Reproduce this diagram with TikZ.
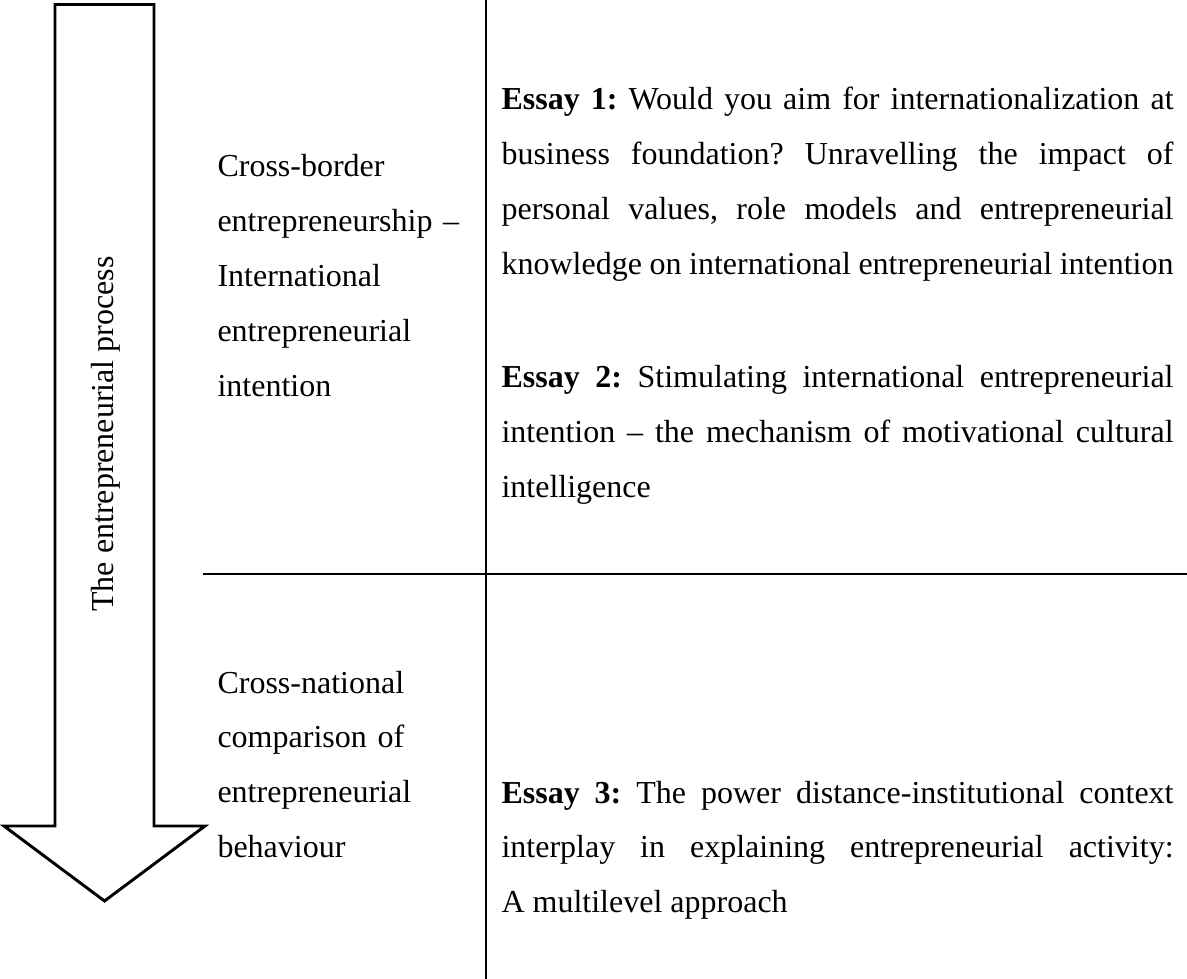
\documentclass[tikz,border=0pt]{standalone}
\usepackage{fontspec}
\setmainfont{Liberation Serif}
\frenchspacing
\begin{document}
\begin{tikzpicture}[x=0.375pt,y=-0.375pt,
  rule/.style={line width=0.75pt},
  bigarrow/.style={line width=1.1pt, line join=miter},
  bodyfont/.style={font=\fontsize{12pt}{20.6pt}\selectfont},
  celltext/.style={bodyfont, anchor=base west, inner sep=0pt, text width=105pt, align=left},
  essaytext/.style={bodyfont, anchor=base west, inner sep=0pt, text width=252pt, align=justify}]
\useasboundingbox (0,0) rectangle (1187,979);

% process arrow pointing down
\draw[bigarrow] (55,4.5) -- (154,4.5) -- (154,826) -- (205,826) -- (104.5,901)
  -- (4,826) -- (55,826) -- cycle;
\node[bodyfont, rotate=90, inner sep=0pt] (proc) at (106,434) {The entrepreneurial process};

% table rules
\coordinate (vtop) at (486,0);
\coordinate (vbot) at (486,979);
\coordinate (hl) at (203,574);
\coordinate (hr) at (1187,574);
\draw[rule] (vtop) -- (vbot);
\draw[rule] (hl) -- (hr);

% left column
\node[celltext] (cb) at (217,177) {Cross-border\\entrepreneurship --\\International\\entrepreneurial\\intention};
\node[celltext] (cn) at (217,693) {Cross-national\\comparison of\\entrepreneurial\\behaviour};

% right column
\node[essaytext] (e1) at (501,110) {\tolerance=10000\hbadness=10000
  \textbf{Essay 1:} Would you aim for internationalization at\linebreak
  business foundation? Unravelling the impact of\linebreak
  personal values, role models and entrepreneurial\linebreak
  knowledge on international entrepreneurial intention};
\node[essaytext] (e2) at (501,388) {\tolerance=10000\hbadness=10000
  \textbf{Essay 2:} Stimulating international entrepreneurial\linebreak
  intention -- the mechanism of motivational cultural\linebreak
  intelligence};
\node[essaytext] (e3) at (501,803) {\tolerance=10000\hbadness=10000
  \textbf{Essay 3:} The power distance-institutional context\linebreak
  interplay in explaining entrepreneurial activity:\linebreak
  A multilevel approach};
\end{tikzpicture}
\end{document}
